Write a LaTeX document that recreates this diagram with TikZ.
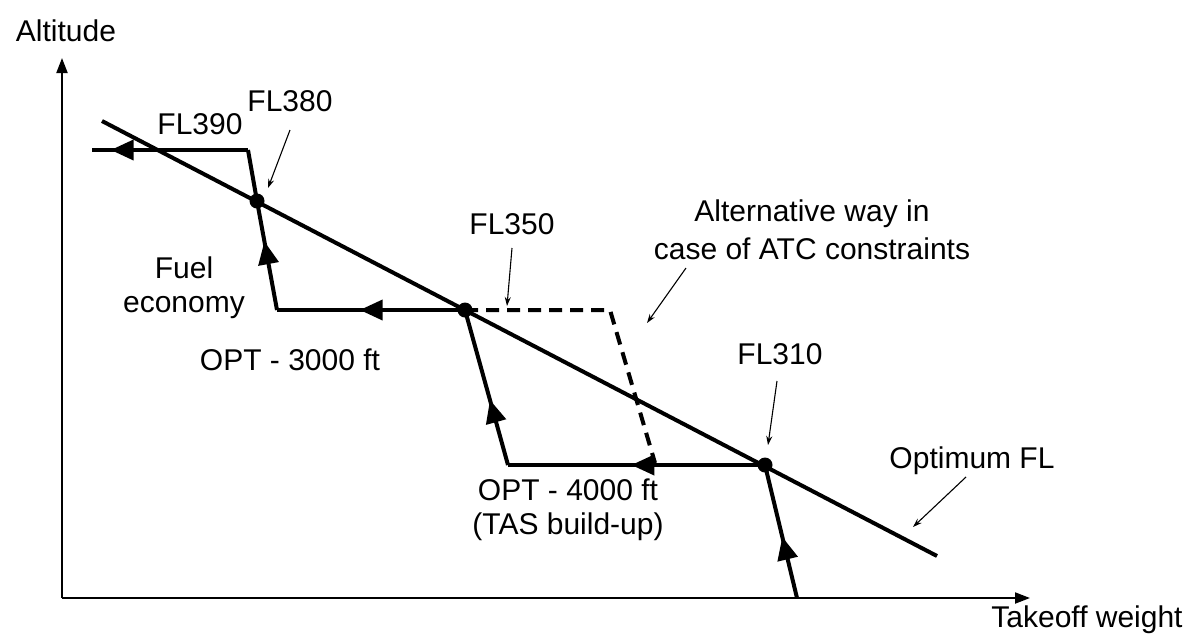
\documentclass[tikz,border=0pt]{standalone}
\usepackage{fontspec}
\setmainfont{Liberation Sans}
\usetikzlibrary{arrows.meta,decorations.markings}
\begin{document}
\begin{tikzpicture}[x=1pt,y=-1pt,
  lbl/.style={inner sep=0pt,font=\fontsize{30}{34}\selectfont,align=center},
  thickline/.style={line width=4pt,line join=miter},
  axisline/.style={line width=2pt,-{Triangle[length=15pt,width=11pt]}},
  pointer/.style={line width=1.1pt,-{Stealth[length=9pt,width=6pt]}},
  dotnode/.style={circle,fill=black,inner sep=0pt,minimum size=15pt},
  midarrow/.style={postaction={decorate},decoration={markings,
     mark=at position #1 with {\arrow{Triangle[length=23pt,width=20pt]}}}},
  dashline/.style={line width=4pt,dash pattern=on 13pt off 8pt}
]
\useasboundingbox (0,0) rectangle (1184,638);
% axes
\coordinate (O) at (62,598);
\coordinate (Ytop) at (62,58);
\coordinate (Xend) at (1030,598);
\draw[axisline] (O) -- (Ytop);
\draw[axisline] (O) -- (Xend);
\node[lbl] (alt) at (66,31) {Altitude};
\node[lbl] (tow) at (1087,620) {Takeoff weight};
% optimum FL line
\coordinate (optA) at (102,121);
\coordinate (optB) at (937,556);
\draw[thickline] (optA) -- (optB);
% dots
\node[dotnode] (d380) at (257,201) {};
\node[dotnode] (d350) at (465,310) {};
\node[dotnode] (d310) at (765,465) {};
% path corners
\coordinate (p0) at (797,598);
\coordinate (p1) at (508,465);
\coordinate (p2) at (277,310);
\coordinate (p3) at (248,150);
\coordinate (p4) at (92,150);
\coordinate (q1) at (610,310);
\coordinate (q2) at (655,463);
% path with arrows
\draw[thickline,midarrow=0.46] (p0) -- (d310.center);
\draw[thickline,midarrow=0.52] (d310.center) -- (p1);
\draw[thickline,midarrow=0.42] (p1) -- (d350.center);
\draw[thickline,midarrow=0.56] (d350.center) -- (p2);
\draw[thickline,midarrow=0.63] (p2) -- (d380.center);
\draw[thickline] (d380.center) -- (p3);
\draw[thickline,midarrow=0.88] (p3) -- (p4);
% dashed alternative
\draw[dashline] (d350.center) -- (q1) -- (q2);
% labels
\node[lbl] (l390) at (200,124) {FL390};
\node[lbl] (l380) at (290,101) {FL380};
\node[lbl] (l350) at (512,224) {FL350};
\node[lbl] (l310) at (780,354) {FL310};
\node[lbl] (alt1) at (812,214) {Alternative way in};
\node[lbl] (alt2) at (812,249) {case of ATC constraints};
\node[lbl] (fuel) at (184,288) {Fuel\\economy};
\node[lbl] (opt3) at (290,360) {OPT - 3000 ft};
\node[lbl] (opt4) at (568,510) {OPT - 4000 ft\\(TAS build-up)};
\node[lbl] (optfl) at (972,461) {Optimum FL};
% pointers
\coordinate (a380s) at (290,130);
\coordinate (a380e) at (268,188);
\coordinate (a350s) at (512,248);
\coordinate (a350e) at (507,306);
\coordinate (aATCs) at (686,268);
\coordinate (aATCe) at (647,323);
\coordinate (a310s) at (777,381);
\coordinate (a310e) at (768,445);
\coordinate (aoptS) at (966,477);
\coordinate (aoptE) at (913,527);
\draw[pointer] (a380s) -- (a380e);
\draw[pointer] (a350s) -- (a350e);
\draw[pointer] (aATCs) -- (aATCe);
\draw[pointer] (a310s) -- (a310e);
\draw[pointer] (aoptS) -- (aoptE);
\end{tikzpicture}
\end{document}
